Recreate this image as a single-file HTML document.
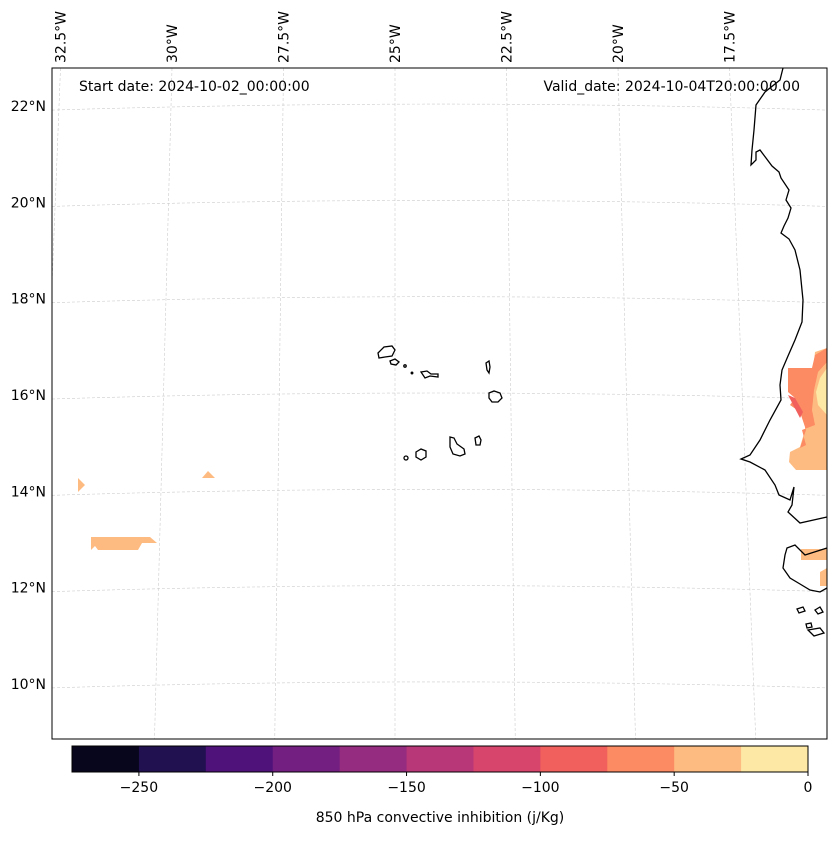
<!DOCTYPE html>
<html><head><meta charset="utf-8"><style>
body{margin:0;background:#fff}
svg text{font-family:"DejaVu Sans","Liberation Sans",sans-serif;fill:#000}
</style></head><body>
<svg id="chart" width="837" height="836" viewBox="0 0 837 836" xmlns="http://www.w3.org/2000/svg">
<defs><clipPath id="mapclip"><rect x="52" y="68" width="775" height="671"/></clipPath></defs>
<g id="grid" clip-path="url(#mapclip)"></g>
<g id="fills">
  <polygon fill="#febb81" points="78,478 85,485 78,492"/>
  <polygon fill="#febb81" points="202,478 208,471 215,478"/>
  <polygon fill="#febb81" points="91,537 150,537 157,543 142,543 138,550 98,550 95,546 91,550"/>
  <polygon fill="#febb81" points="815,352 827,348 827,470 796,470 789,462 790,452 800,447 805,430 806,400 812,380"/>
  <polygon fill="#fc8a62" points="788,368 812,368 815,355 827,348 827,362 818,372 814,390 812,410 815,425 802,430 806,445 800,448 806,430 800,412 790,405 795,398 788,392"/>
  <polygon fill="#f1605d" points="788,395 795,398 803,412 800,418"/>
  <polygon fill="#fde8a5" points="827,368 820,378 816,392 818,405 827,415"/>
  <polygon fill="#febb81" points="801,549 827,549 827,560 801,560"/>
  <polygon fill="#febb81" points="820,572 827,568 827,586 820,586"/>
</g>
<g fill="none" stroke="#000" stroke-width="1.3">
  <polyline points="783,68 780,80 765,92 756,105 754,130 752,150 751,165 756,160 756,152 760,150 766,158 772,166 779,172 781,178 789,190 786,200 791,208 788,218 784,226 781,233 789,239 795,250 800,270 803,300 802,322 795,340 788,356 782,370 780,385 781,400 770,420 760,440 750,455 741,459 750,462 765,470 775,485 779,495 790,500 794,487 792,505 788,512 800,523 827,517"/>
  <polyline points="827,548 805,555 795,545 787,548 785,555 783,568 790,578 800,584 810,590 820,592 827,588"/>
  <path d="M797,609 l6,-2 2,4 -6,2z M815,610 l5,-3 3,5 -5,2z M806,624 l5,-1 1,4 -5,1z M808,630 l12,-2 4,5 -10,3z"/>
</g>
<g fill="none" stroke="#000" stroke-width="1.3">
  <path d="M378,353 l6,-6 8,-1 3,4 -3,6 -7,1 -6,1z"/>
  <path d="M390,361 l5,-2 4,3 -3,3 -5,-1z"/>
  <circle cx="405" cy="366" r="1.2"/>
  <circle cx="412" cy="373" r="0.8"/>
  <path d="M421,372 l6,-1 4,3 7,0 0,3 -8,-1 -5,2z"/>
  <path d="M486,363 l3,-2 1,6 -1,6 -2,-3z"/>
  <path d="M489,393 l5,-2 6,2 2,5 -4,4 -6,0 -3,-4z"/>
  <path d="M475,438 l4,-2 2,4 -1,5 -4,0z"/>
  <path d="M450,437 l4,1 3,6 7,5 1,5 -5,2 -7,-2 -3,-7z"/>
  <path d="M416,452 l5,-3 5,2 0,6 -5,3 -5,-3z"/>
  <circle cx="406" cy="458" r="2"/>
</g>
<rect x="52" y="68" width="775" height="671" fill="none" stroke="#000" stroke-width="1"/>
<text x="79" y="91" font-size="14">Start date: 2024-10-02_00:00:00</text>
<text x="800" y="91" font-size="14" text-anchor="end">Valid_date: 2024-10-04T20:00:00.00</text>
<g id="latlabels"></g>
<g id="lonlabels"></g>
<g id="cbar"></g>
<text x="440" y="822" font-size="14" text-anchor="middle">850 hPa convective inhibition (j/Kg)</text>
</svg>
<script>
const latValues=[22,20,18,16,14,12,10];
const lonValues=[32.5,30,27.5,25,22.5,20,17.5];
const levels=[-275,-250,-225,-200,-175,-150,-125,-100,-75,-50,-25,0];
const levelColors=["#07061c","#221150","#4f127b","#721f81","#952c80","#b73779","#d8456c","#f1605d","#fc8a62","#febb81","#fde8a5"];
const cbTicks=[-250,-200,-150,-100,-50,0];
const NS="http://www.w3.org/2000/svg";
function mk(t,a,p){const e=document.createElementNS(NS,t);for(const k in a)e.setAttribute(k,a[k]);p.appendChild(e);return e;}
const yLat=lat=>395-(lat-16)*48.15;
function lonLine(lon,y){const t=(y-68)/671;const top=395+(25-lon)*44.6;const bottom=top+(25-lon)*3.5;return top+(bottom-top)*t;}
const grid=document.getElementById('grid');
latValues.forEach(lat=>{const y=yLat(lat);
 const p=mk('path',{d:`M52,${y+4} Q440,${y-8} 827,${y+4}`,fill:'none',stroke:'#ccc','stroke-width':0.6,'stroke-dasharray':'3,2'},grid);
 
 const g=document.getElementById('latlabels');
 const t=mk('text',{x:46,y:y+5,'font-size':14,'text-anchor':'end'},g);t.textContent=lat+'°N';
 
});
lonValues.forEach(lon=>{
 const l=mk('line',{x1:lonLine(lon,68),y1:68,x2:lonLine(lon,739),y2:739,stroke:'#ccc','stroke-width':0.6,'stroke-dasharray':'3,2'},grid);
 
 const x=lonLine(lon,68)+5;
 const g=document.getElementById('lonlabels');
 const t=mk('text',{x:0,y:0,'font-size':14,transform:`translate(${x},63) rotate(-90)`},g);t.textContent=lon+'°W';
 
});
const cb=document.getElementById('cbar');
const cx0=72,cx1=808,cy=746,ch=26;
const xCb=v=>cx0+(v-levels[0])/(levels[levels.length-1]-levels[0])*(cx1-cx0);
levelColors.forEach((c,i)=>{const r=mk('rect',{x:xCb(levels[i]),y:cy,width:xCb(levels[i+1])-xCb(levels[i])+0.5,height:ch,fill:c},cb);
 });
const fr=mk('rect',{x:cx0,y:cy,width:cx1-cx0,height:ch,fill:'none',stroke:'#000','stroke-width':1},cb);

cbTicks.forEach(v=>{const x=xCb(v);
 const l=mk('line',{x1:x,y1:cy+ch,x2:x,y2:cy+ch+4,stroke:'#000'},cb);
 
 const t=mk('text',{x:x,y:cy+ch+20,'font-size':14,'text-anchor':'middle'},cb);t.textContent=(v<0?'\u2212'+(-v):v);
 });
</script>
</body></html>
